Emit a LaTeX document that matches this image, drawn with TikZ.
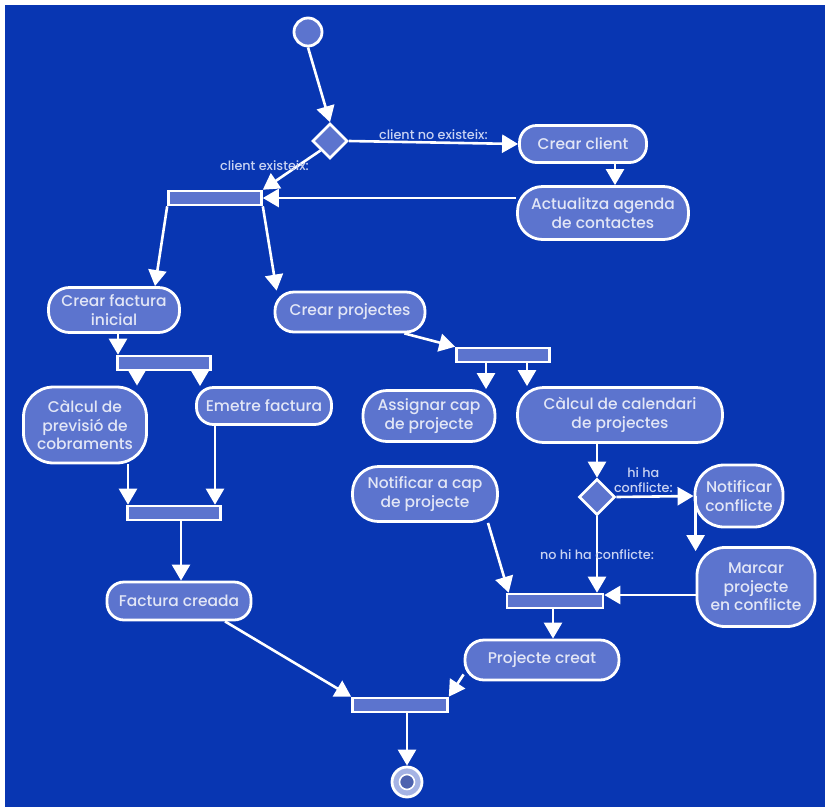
\documentclass[tikz,border=0pt]{standalone}
\usepackage{fontspec}
\setmainfont{Poppins}[UprightFont=* Medium]
\usetikzlibrary{arrows.meta,shapes.geometric,calc}

\definecolor{umlbg}{RGB}{8,54,178}
\definecolor{umlfill}{RGB}{92,116,206}
\definecolor{umltext}{RGB}{226,230,246}
\definecolor{umlguard}{RGB}{200,210,242}

\tikzset{
  activity/.style={draw=white, line width=2.8pt, fill=umlfill, rounded corners=17pt,
    text=umltext, font=\fontsize{15.5}{18.5}\selectfont, align=center, inner sep=0pt},
  synchbar/.style={draw=white, line width=2.6pt, fill=umlfill, minimum width=93pt,
    minimum height=14pt, inner sep=0pt},
  choice/.style={diamond, draw=white, line width=2.6pt, fill=umlfill,
    minimum size=35pt, inner sep=0pt},
  flow/.style={draw=white, line width=2.6pt, -{Triangle[length=16pt,width=18pt]}},
  guard/.style={text=umlguard, font=\fontsize{12.8}{14.5}\selectfont, align=center, inner sep=1pt},
}

\begin{document}
\begin{tikzpicture}[x=1pt, y=-1pt]
  % page: white margin at top and left, blue board
  \fill[white] (0,0) rectangle (825,807);
  \fill[umlbg] (5,5) rectangle (825,807);
  \useasboundingbox (0,0) rectangle (825,807);

  % start / end states
  \node[circle, draw=white, line width=2.8pt, fill=umlfill, minimum size=28pt] (start) at (308,32) {};
  \node[circle, draw=white, line width=2.8pt, fill=umlfill!55!white, minimum size=30pt] (endo) at (407,782) {};
  \node[circle, draw=white, line width=1.6pt, fill=umlfill!85!black, minimum size=15pt] (endi) at (endo) {};

  % decisions
  \node[choice] (dec1) at (330,141) {};
  \node[choice, minimum size=36pt] (dec2) at (597,497) {};

  % fork / join bars
  \node[synchbar] (fork1) at (215,198) {};
  \node[synchbar] (fork2) at (164,363) {};
  \node[synchbar] (join3) at (174,513) {};
  \node[synchbar] (fork5) at (503,355) {};
  \node[synchbar, minimum width=96pt] (join4) at (555,601) {};
  \node[synchbar, minimum width=95pt] (joinend) at (400,705) {};

  % activities -- client
  \node[activity, minimum width=127pt, minimum height=37pt] (crearclient) at (583,144) {Crear client};
  \node[activity, minimum width=171pt, minimum height=53pt, rounded corners=25pt] (agenda) at (603,213)
    {Actualitza agenda\\de contactes};

  % activities -- factura
  \node[activity, minimum width=131pt, minimum height=45pt, rounded corners=21pt] (crearfactura) at (114,310)
    {Crear factura\\inicial};
  \node[activity, minimum width=123pt, minimum height=76pt, rounded corners=30pt] (previsio) at (85,425)
    {Càlcul de\\previsió de\\cobraments};
  \node[activity, minimum width=135pt, minimum height=37pt] (emetre) at (264,406) {Emetre factura};
  \node[activity, minimum width=144pt, minimum height=38pt] (facturacreada) at (179,601) {Factura creada};

  % activities -- projectes
  \node[activity, minimum width=150pt, minimum height=40pt, rounded corners=19pt] (crearprojectes) at (350,312)
    {Crear projectes};
  \node[activity, minimum width=132pt, minimum height=51pt, rounded corners=24pt] (assignar) at (429,416)
    {Assignar cap\\de projecte};
  \node[activity, minimum width=205pt, minimum height=55pt, rounded corners=26pt] (calendari) at (620,415)
    {Càlcul de calendari\\de projectes};
  \node[activity, minimum width=145pt, minimum height=55pt, rounded corners=26pt] (notifcap) at (425,494)
    {Notificar a cap\\de projecte};
  \node[activity, minimum width=88pt, minimum height=62pt, rounded corners=29pt] (notifconf) at (739,496)
    {Notificar\\conflicte};
  \node[activity, minimum width=118pt, minimum height=79pt, rounded corners=28pt] (marcar) at (756,587)
    {Marcar\\projecte\\en conflicte};
  \node[activity, minimum width=154pt, minimum height=40pt, rounded corners=19pt] (projcreat) at (542,660)
    {Projecte creat};

  % transitions -- client
  \draw[flow] (start.south) -- (dec1.north);
  \draw[flow] (dec1.east) -- (crearclient.west)
    node[guard, midway, above, yshift=1pt] {client no existeix:};
  \draw[flow] ([xshift=32pt]crearclient.south) -- ([xshift=32pt]crearclient.south |- agenda.north);
  \draw[flow] (fork1.east -| agenda.west) -- (fork1.east);
  \draw[flow] (dec1.south west) -- (fork1.north east)
    node[guard, pos=0.4, xshift=-33pt] {client existeix:};

  % transitions -- factura
  \draw[flow] (fork1.south west) -- ([xshift=41pt]crearfactura.north);
  \draw[flow] ([xshift=4pt]crearfactura.south) -- ([xshift=4pt]crearfactura.south |- fork2.north);
  \draw[flow] ([xshift=-27pt]fork2.south) -- ([xshift=-27pt]fork2.south |- previsio.north);
  \draw[flow] ([xshift=36pt]fork2.south) -- ([xshift=36pt]fork2.south |- emetre.north);
  \draw[flow] ([xshift=43pt]previsio.south) -- ([xshift=43pt]previsio.south |- join3.north);
  \draw[flow] ([xshift=-49pt]emetre.south) -- ([xshift=-49pt]emetre.south |- join3.north);
  \draw[flow] ([xshift=7pt]join3.south) -- ([xshift=7pt]join3.south |- facturacreada.north);
  \draw[flow] ([xshift=46pt]facturacreada.south) -- (joinend.north west);

  % transitions -- projectes
  \draw[flow] (fork1.south east) -- ([xshift=3pt]crearprojectes.north west);
  \draw[flow] ([xshift=-22pt]crearprojectes.south east) -- (fork5.north west);
  \draw[flow] ([xshift=-17pt]fork5.south) -- ([xshift=-17pt]fork5.south |- assignar.north);
  \draw[flow] ([xshift=24pt]fork5.south) -- ([xshift=24pt]fork5.south |- calendari.north);
  \draw[flow] (dec2.north |- calendari.south) -- (dec2.north);
  \draw[flow] (dec2.east) -- (notifconf.west)
    node[guard, pos=0.35, above, yshift=2pt] {hi ha\\conflicte:};
  \draw[flow] ([xshift=2pt]notifconf.west) -- ([xshift=2pt, yshift=-5pt]notifconf.west |- marcar.north);
  \draw[flow] (dec2.south) -- (dec2.south |- join4.north)
    node[guard, midway] {no hi ha conflicte:};
  \draw[flow] ([yshift=6pt]join4.east -| marcar.west) -- ([yshift=6pt]join4.east);
  \draw[flow] ([xshift=63pt]notifcap.south) -- ([xshift=3pt]join4.north west);
  \draw[flow] ([xshift=-2pt]join4.south) -- ([xshift=-2pt]join4.south |- projcreat.north);
  \draw[flow] ([yshift=7pt]projcreat.south west) -- (joinend.north east);

  % end
  \draw[flow] (joinend.south -| endo.north) -- (endo.north);
\end{tikzpicture}
\end{document}
